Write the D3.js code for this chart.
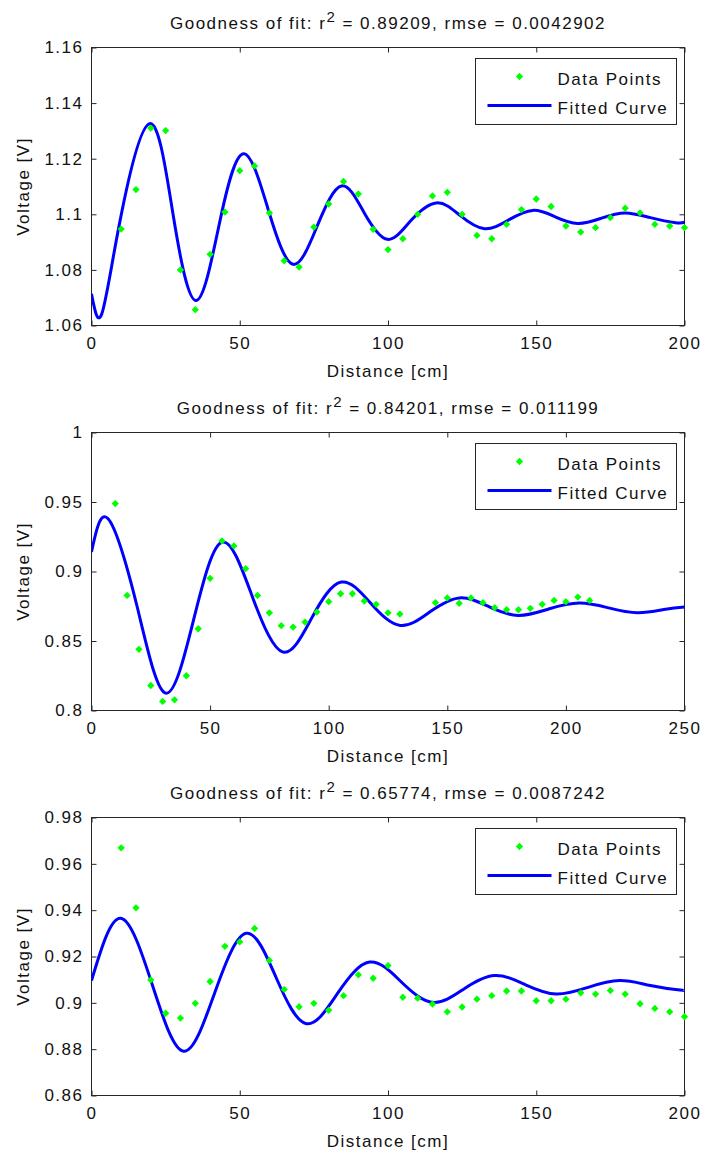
<!DOCTYPE html>
<html>
<head>
<meta charset="utf-8">
<script src="https://cdn.jsdelivr.net/npm/d3@7"></script>
<style>
  body { margin: 0; background: #fff; }
  svg text { font-family: "Liberation Sans", Arial, sans-serif; font-size: 17px; letter-spacing: 1.5px; fill: #111; }
</style>
</head>
<body>
<svg id="chart" width="704" height="1155"></svg>
<script>
// Three damped-oscillation measurements with their fitted curves

// Panel 1
const dist1 = [10, 15, 20, 25, 30, 35, 40, 45, 50, 55, 60, 65, 70, 75, 80, 85, 90, 95, 100,
  105, 110, 115, 120, 125, 130, 135, 140, 145, 150, 155, 160, 165, 170, 175, 180, 185, 190, 195, 200];
const volt1 = [1.0947, 1.1089, 1.1310, 1.1301, 1.0800, 1.0657, 1.0856, 1.1008, 1.1157, 1.1174,
  1.1005, 1.0833, 1.0810, 1.0954, 1.1037, 1.1118, 1.1073, 1.0946, 1.0873,
  1.0912, 1.1000, 1.1066, 1.1079, 1.1000, 1.0924, 1.0912, 1.0964, 1.1017, 1.1055,
  1.1028, 1.0958, 1.0936, 1.0952, 1.0988, 1.1022, 1.1005, 1.0964, 1.0958, 1.0952];
const fitDist1 = [0, 3.4, 9.5, 19.6, 27.5, 35.4, 43.6, 51.5, 59.8, 68.0, 76.2, 84.3, 92.0, 99.8,
  107.5, 116.3, 124.4, 132.6, 140.7, 148.8, 156.2, 164.0, 172.0, 180.0, 188.5, 197.0, 200];
const fitVolt1 = [1.0714, 1.0640, 1.0970, 1.1326, 1.1000, 1.0690, 1.0990, 1.1218, 1.1010, 1.0820,
  1.0960, 1.1102, 1.1005, 1.0910, 1.0975, 1.1041, 1.0995, 1.0948, 1.0980, 1.1014,
  1.0992, 1.0967, 1.0986, 1.1005, 1.0988, 1.0970, 1.0972];
const yTicks1 = [1.06, 1.08, 1.1, 1.12, 1.14, 1.16];
const xTicks1 = [0, 50, 100, 150, 200];
const title1 = ['0.89209', '0.0042902'];

// Panel 2
const dist2 = [10, 15, 20, 25, 30, 35, 40, 45, 50, 55, 60, 65, 70, 75, 80, 85, 90, 95, 100,
  105, 110, 115, 120, 125, 130, 145, 150, 155, 160, 165, 170, 175, 180, 185, 190, 195, 200, 205, 210];
const volt2 = [0.9489, 0.8828, 0.8440, 0.8180, 0.8065, 0.8077, 0.8250, 0.8588, 0.8951, 0.9220,
  0.9184, 0.9020, 0.8828, 0.8703, 0.8610, 0.8600, 0.8636, 0.8708, 0.8783,
  0.8840, 0.8840, 0.8787, 0.8764, 0.8703, 0.8694, 0.8776, 0.8810, 0.8771, 0.8810,
  0.8776, 0.8740, 0.8725, 0.8725, 0.8735, 0.8764, 0.8792, 0.8783, 0.8816, 0.8792];
const fitDist2 = [0, 7.0, 19.2, 31.3, 43.3, 55.2, 68.0, 80.8, 93.0, 105.3, 117.8, 130.2, 142.7,
  155.2, 167.5, 179.8, 192.7, 205.7, 218.0, 230.3, 242.0, 250];
const fitVolt2 = [0.914, 0.938, 0.875, 0.8125, 0.867, 0.9212, 0.881, 0.842, 0.867, 0.8924, 0.877,
  0.8612, 0.871, 0.881, 0.8747, 0.8684, 0.873, 0.8773, 0.8738, 0.8703, 0.8728, 0.8744];
const yTicks2 = [0.8, 0.85, 0.9, 0.95, 1];
const xTicks2 = [0, 50, 100, 150, 200, 250];
const title2 = ['0.84201', '0.011199'];

// Panel 3
const dist3 = [10, 15, 20, 25, 30, 35, 40, 45, 50, 55, 60, 65, 70, 75, 80, 85, 90, 95, 100,
  105, 110, 115, 120, 125, 130, 135, 140, 145, 150, 155, 160, 165, 170, 175, 180, 185, 190, 195, 200];
const volt3 = [0.9669, 0.9410, 0.9099, 0.8955, 0.8934, 0.8998, 0.9092, 0.9244, 0.9263, 0.9321,
  0.9183, 0.9058, 0.8983, 0.8998, 0.8968, 0.9031, 0.9121, 0.9106, 0.9161,
  0.9024, 0.9020, 0.8995, 0.8961, 0.8982, 0.9016, 0.9031, 0.9051, 0.9051, 0.9009,
  0.9009, 0.9016, 0.9043, 0.9038, 0.9053, 0.9038, 0.8996, 0.8976, 0.8961, 0.8940];
const fitDist3 = [0, 9.8, 20.5, 31.1, 41.6, 52.2, 62.4, 72.5, 83.1, 93.8, 104.5, 115.2, 125.6,
  136.0, 146.4, 156.8, 167.5, 178.1, 188.5, 198.5, 200];
const fitVolt3 = [0.9096, 0.9365, 0.9078, 0.8791, 0.9045, 0.930, 0.9105, 0.891, 0.9043, 0.9176,
  0.909, 0.9002, 0.906, 0.9118, 0.9078, 0.9038, 0.9067, 0.9096, 0.9075, 0.9055, 0.9056];
const yTicks3 = [0.86, 0.88, 0.9, 0.92, 0.94, 0.96, 0.98];
const xTicks3 = [0, 50, 100, 150, 200];
const title3 = ['0.65774', '0.0087242'];

const panels = [
  {dist: dist1, volt: volt1, fitDist: fitDist1, fitVolt: fitVolt1, xTicks: xTicks1, yTicks: yTicks1, title: title1, top: 47},
  {dist: dist2, volt: volt2, fitDist: fitDist2, fitVolt: fitVolt2, xTicks: xTicks2, yTicks: yTicks2, title: title2, top: 432},
  {dist: dist3, volt: volt3, fitDist: fitDist3, fitVolt: fitVolt3, xTicks: xTicks3, yTicks: yTicks3, title: title3, top: 817}
];

const svg = d3.select('#chart');
const left = 91.5, right = 684.5, plotH = 278;
const axisColor = '#262626';
const fmt = d => String(+d.toFixed(4));

panels.forEach((p, i) => {
  const top = p.top + 0.5;
  const bottom = top + plotH;
  const x = d3.scaleLinear().domain(d3.extent(p.xTicks)).range([left, right]);
  const y = d3.scaleLinear().domain(d3.extent(p.yTicks)).range([bottom, top]);
  const g = svg.append('g').attr('class', 'panel');

  g.append('clipPath').attr('id', 'clip' + i)
    .append('rect').attr('x', left).attr('y', top).attr('width', right - left).attr('height', plotH);

  // axes, MATLAB style: box with inward ticks on all sides
  const axes = [
    [d3.axisBottom(x).tickFormat(d3.format('d')), `translate(0,${bottom})`, 11, p.xTicks],
    [d3.axisTop(x).tickFormat(''), `translate(0,${top})`, 0, p.xTicks],
    [d3.axisLeft(y).tickFormat(fmt), `translate(${left},0)`, 8, p.yTicks],
    [d3.axisRight(y).tickFormat(''), `translate(${right},0)`, 0, p.yTicks]
  ];
  axes.forEach(([ax, tr, pad, ticks]) => {
    ax.tickValues(ticks).tickSizeInner(-5).tickSizeOuter(0).tickPadding(pad);
    const a = g.append('g').attr('transform', tr).style('color', axisColor).call(ax);
    a.select('.domain').remove();
  });

  g.append('rect')
    .attr('x', left).attr('y', top).attr('width', right - left).attr('height', plotH)
    .attr('fill', 'none').attr('stroke', axisColor).attr('stroke-width', 1);

  // fitted curve
  const line = d3.line()
    .x((d, j) => x(p.fitDist[j]))
    .y(d => y(d))
    .curve(d3.curveNatural);
  g.append('path')
    .attr('clip-path', `url(#clip${i})`)
    .attr('d', line(p.fitVolt))
    .attr('fill', 'none').attr('stroke', '#0000ff').attr('stroke-width', 3);

  // data points
  const sym = d3.symbol(d3.symbolDiamond2, 34);
  g.selectAll('.pt').data(p.volt).enter().append('path')
    .attr('class', 'pt')
    .attr('d', sym)
    .attr('transform', (d, j) => `translate(${x(p.dist[j])},${y(d)})`)
    .attr('fill', '#00ff00');

  // title
  const cx = (left + right) / 2;
  const t = g.append('text').attr('x', cx).attr('y', p.top - 18).attr('text-anchor', 'middle');
  t.append('tspan').text('Goodness of fit: r');
  t.append('tspan').attr('dy', -7).style('font-size', '15px').text('2');
  t.append('tspan').attr('dy', 7).text(` = ${p.title[0]}, rmse = ${p.title[1]}`);

  // axis labels
  g.append('text').attr('x', cx).attr('y', p.top + plotH + 52)
    .attr('text-anchor', 'middle').text('Distance [cm]');
  g.append('text').attr('transform', `translate(29,${top + plotH / 2}) rotate(-90)`)
    .attr('text-anchor', 'middle').text('Voltage [V]');

  // legend
  const lg = g.append('g').attr('transform', `translate(475.5,${top + 11})`);
  lg.append('rect').attr('width', 201).attr('height', 66)
    .attr('fill', '#fff').attr('stroke', axisColor).attr('stroke-width', 1);
  lg.append('path').attr('d', sym).attr('transform', 'translate(44,18)').attr('fill', '#00ff00');
  lg.append('line').attr('x1', 12).attr('x2', 76).attr('y1', 47).attr('y2', 47)
    .attr('stroke', '#0000ff').attr('stroke-width', 3);
  lg.append('text').attr('x', 82).attr('y', 26).text('Data Points');
  lg.append('text').attr('x', 82).attr('y', 55).text('Fitted Curve');
});
</script>
</body>
</html>
